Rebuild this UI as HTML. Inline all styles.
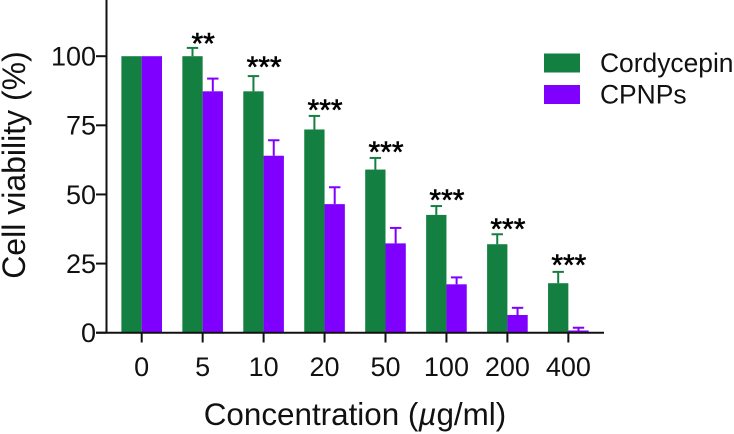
<!DOCTYPE html>
<html>
<head>
<meta charset="utf-8">
<title>Cell viability chart</title>
<style>
html,body{margin:0;padding:0;background:#fff;}
svg{display:block;font-family:"Liberation Sans",Arial,sans-serif;fill:#111;}
</style>
</head>
<body>
<svg id="chart" xmlns="http://www.w3.org/2000/svg" width="734" height="434" viewBox="0 0 734 434">
  <g id="bars"></g>
  <g id="axes">
    <line x1="106.5" y1="0" x2="106.5" y2="333.5" stroke="#111" stroke-width="2"/>
    <line x1="96" y1="332.7" x2="604" y2="332.7" stroke="#111" stroke-width="2"/>
  </g>
  <g id="ticks"></g>
  <g id="stars"></g>
  <text x="355" y="425" font-size="31.4" text-anchor="middle">Concentration (<tspan font-style="italic">µ</tspan>g/ml)</text>
  <text transform="translate(25,165) rotate(-90)" font-size="32" text-anchor="middle">Cell viability (%)</text>
  <g>
    <rect x="544" y="53.5" width="36" height="19" fill="#137f41"/>
    <text x="600" y="72" font-size="26.4">Cordycepin</text>
    <rect x="544" y="85" width="36" height="19" fill="#7f00ff"/>
    <text x="600" y="103.5" font-size="26.4">CPNPs</text>
  </g>
</svg>
<script>
var categories = ['0', '5', '10', '20', '50', '100', '200', '400'];
var cordycepin = [100, 100, 87.3, 73.5, 59, 42.6, 32, 17.9];
var cordycepinErrTop = [100, 103, 92.8, 78.4, 63.2, 45.8, 35.6, 22];
var cpnps = [100, 87.3, 64, 46.5, 32.3, 17.5, 6.4, 0.8];
var cpnpsErrTop = [100, 91.9, 69.6, 52.6, 37.9, 20, 9, 1.8];
var yTicks = [0, 25, 50, 75, 100];
var stars = ['', '**', '***', '***', '***', '***', '***', '***'];
var starLevels = [0, 106, 97.5, 82, 66.8, 49.5, 39, 26];

var NS = 'http://www.w3.org/2000/svg';
function yScale(v) { return 332.7 - v * 2.765; }
function xScale(i) { return 141.7 + i * 60.95; }
var BAR_W = 20.3;
var GREEN = '#137f41';
var PURPLE = '#7f00ff';

function make(tag, attrs, parent) {
  var el = document.createElementNS(NS, tag);
  for (var k in attrs) { el.setAttribute(k, attrs[k]); }
  parent.appendChild(el);
  return el;
}

var barsG = document.getElementById('bars');
var ticksG = document.getElementById('ticks');
var starsG = document.getElementById('stars');

function drawSeries(values, errs, offset, color) {
  values.forEach(function (v, i) {
    var cx = xScale(i);
    var x0 = cx + offset;
    var top = yScale(v);
    var errY = yScale(errs[i]);
    var mid = x0 + BAR_W / 2;
    if (errs[i] > v) {
      var stem = make('line', {x1: mid, x2: mid, y1: top, y2: errY, stroke: color, 'stroke-width': 2}, barsG);
      
      
      var cap = make('line', {x1: mid - 5.7, x2: mid + 5.7, y1: errY, y2: errY, stroke: color, 'stroke-width': 2}, barsG);
      
      
    }
    var bar = make('rect', {x: x0, y: top, width: BAR_W, height: yScale(0) - top, fill: color}, barsG);
    
    
  });
}
drawSeries(cordycepin, cordycepinErrTop, -BAR_W, GREEN);
drawSeries(cpnps, cpnpsErrTop, 0, PURPLE);

yTicks.forEach(function (t) {
  var y = yScale(t);
  var tick = make('line', {x1: 96, x2: 106.5, y1: y, y2: y, stroke: '#111', 'stroke-width': 2}, ticksG);
  
  
  var label = make('text', {x: 96, y: y + 9.3, 'font-size': 27, 'text-anchor': 'end'}, ticksG);
  
  
  label.textContent = t;
});

categories.forEach(function (c, i) {
  var x = xScale(i);
  var tick = make('line', {x1: x, x2: x, y1: 332.7, y2: 342.5, stroke: '#111', 'stroke-width': 2}, ticksG);
  
  
  var label = make('text', {x: x, y: 376, 'font-size': 27, 'text-anchor': 'middle'}, ticksG);
  
  
  label.textContent = c;
});

stars.forEach(function (s, i) {
  if (!s) { return; }
  var label = make('text', {x: xScale(i) + 0.5, y: yScale(starLevels[i]) + 14, 'font-size': 30, 'text-anchor': 'middle', fill: '#000', stroke: '#000', 'stroke-width': 0.6}, starsG);
  
  
  label.textContent = s;
});
</script>
</body>
</html>
